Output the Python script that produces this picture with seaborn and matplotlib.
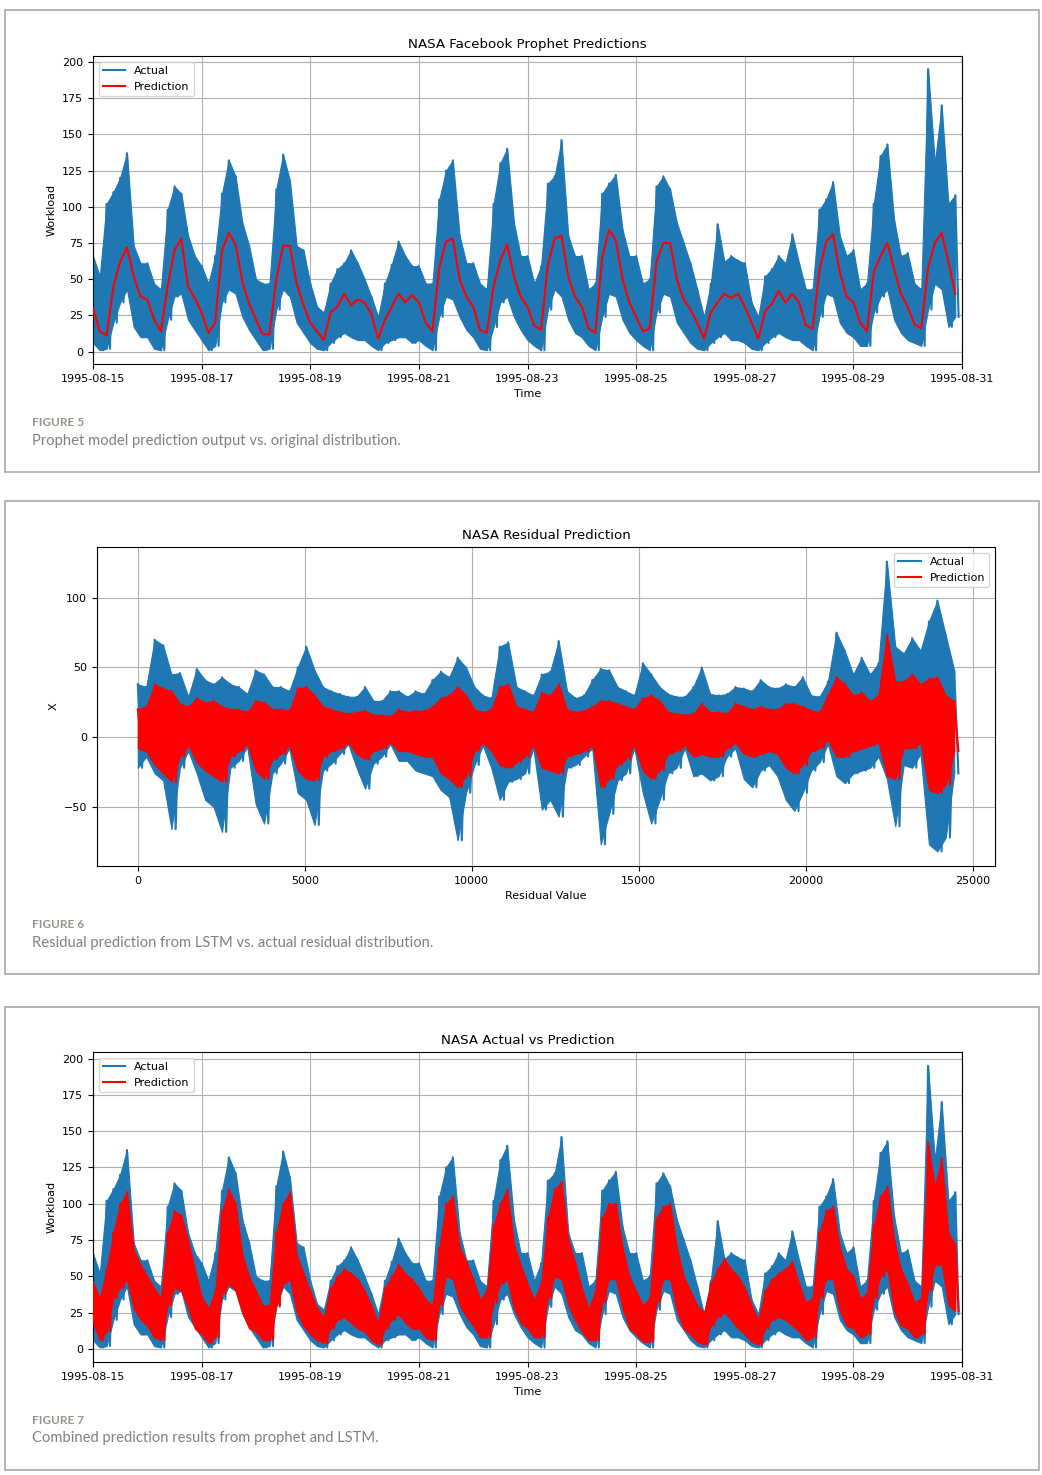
import numpy as np
import pandas as pd
import seaborn as sns
import matplotlib.pyplot as plt
import matplotlib.dates as mdates
from matplotlib.patches import Rectangle

W, H = 1042, 1475

# ---------------- data ----------------
# workload panels: one value per 3 h bin, 16 days starting 1995-08-15 (8 bins per row = 1 day)
actual_hi = [
    66, 52, 102, 110, 120, 137, 73, 61,
    61, 47, 43, 98, 114, 109, 80, 66,
    59, 47, 66, 109, 132, 121, 89, 73,
    50, 47, 47, 112, 136, 118, 73, 70,
    47, 31, 27, 47, 57, 61, 70, 61,
    50, 38, 24, 47, 60, 76, 66, 59,
    59, 47, 47, 105, 125, 132, 80, 61,
    61, 47, 43, 102, 130, 140, 89, 66,
    66, 47, 59, 116, 121, 146, 80, 66,
    66, 43, 47, 109, 116, 122, 84, 66,
    66, 47, 50, 114, 121, 112, 89, 75,
    61, 43, 24, 47, 88, 62, 66, 63,
    61, 34, 24, 52, 57, 66, 61, 81,
    61, 43, 43, 98, 105, 117, 80, 66,
    70, 43, 47, 102, 135, 143, 91, 66,
    68, 47, 43, 195, 130, 170, 102, 108,
]
actual_lo = [
    6, 1, 2, 20, 34, 43, 17, 10,
    10, 2, 1, 22, 38, 40, 22, 15,
    8, 1, 4, 34, 43, 40, 24, 15,
    8, 1, 2, 29, 43, 38, 20, 13,
    6, 2, 1, 6, 10, 13, 10, 8,
    8, 4, 1, 6, 8, 10, 10, 6,
    8, 4, 1, 24, 38, 36, 24, 15,
    10, 2, 1, 17, 34, 38, 24, 15,
    8, 4, 1, 29, 43, 38, 22, 13,
    10, 4, 1, 24, 40, 38, 22, 13,
    8, 4, 1, 27, 40, 38, 20, 13,
    6, 2, 1, 6, 10, 13, 8, 8,
    6, 2, 1, 6, 10, 13, 10, 8,
    8, 4, 1, 24, 40, 38, 20, 13,
    10, 4, 4, 27, 38, 43, 22, 13,
    8, 6, 4, 29, 47, 43, 17, 24,
]
prophet_pred = [
    30, 14, 11, 45, 62, 72, 52, 38,
    36, 22, 14, 45, 70, 78, 45, 37,
    27, 13, 20, 70, 82, 74, 48, 33,
    22, 12, 12, 50, 73, 73, 47, 32,
    20, 14, 8, 27, 31, 40, 32, 36,
    34, 26, 9, 22, 31, 40, 34, 39,
    34, 20, 14, 58, 76, 78, 50, 38,
    31, 15, 13, 45, 63, 74, 52, 38,
    31, 18, 15, 60, 78, 80, 52, 38,
    31, 16, 13, 65, 84, 77, 50, 34,
    24, 14, 16, 62, 75, 75, 50, 36,
    29, 20, 9, 27, 34, 40, 37, 40,
    31, 20, 9, 28, 33, 42, 34, 40,
    34, 18, 16, 56, 76, 81, 55, 38,
    34, 20, 14, 55, 66, 75, 57, 40,
    31, 19, 16, 58, 75, 82, 62, 40,
]
combined_hi = [
    46, 35, 55, 80, 100, 108, 68, 58,
    50, 42, 35, 80, 95, 92, 75, 55,
    36, 28, 40, 95, 110, 100, 65, 50,
    40, 30, 30, 80, 100, 108, 65, 52,
    40, 28, 22, 42, 50, 55, 52, 48,
    40, 30, 18, 42, 50, 58, 52, 48,
    42, 34, 30, 70, 100, 105, 70, 60,
    48, 34, 40, 85, 100, 110, 72, 58,
    45, 34, 45, 90, 110, 115, 75, 60,
    42, 28, 40, 90, 100, 100, 70, 50,
    40, 30, 35, 90, 98, 100, 70, 50,
    40, 30, 25, 45, 55, 62, 55, 50,
    42, 30, 20, 40, 48, 52, 55, 60,
    45, 32, 35, 80, 95, 98, 70, 55,
    50, 35, 38, 85, 105, 112, 75, 55,
    45, 32, 35, 142, 112, 131, 80, 72,
]
combined_lo = [
    18, 6, 12, 35, 42, 48, 28, 20,
    16, 8, 6, 30, 42, 40, 28, 14,
    10, 4, 8, 38, 45, 40, 25, 14,
    12, 6, 6, 30, 45, 48, 25, 16,
    10, 6, 4, 14, 20, 22, 18, 14,
    12, 6, 3, 14, 20, 24, 18, 14,
    14, 8, 6, 30, 50, 48, 30, 22,
    16, 8, 8, 32, 45, 48, 28, 18,
    14, 8, 8, 35, 50, 48, 30, 20,
    12, 6, 6, 32, 48, 48, 28, 14,
    10, 5, 5, 32, 48, 48, 26, 14,
    10, 5, 3, 16, 22, 25, 20, 14,
    10, 5, 3, 14, 20, 22, 20, 16,
    12, 6, 8, 35, 48, 48, 26, 16,
    14, 8, 10, 35, 50, 55, 26, 16,
    14, 8, 10, 40, 58, 58, 30, 26,
]

# residual panel: one value per 252-sample bin (index 0 .. ~24440)
resid_actual_hi = [
    38, 36, 70, 66, 45, 46, 29, 49, 41, 38, 43, 38, 36, 31, 48, 45,
    36, 36, 33, 50, 65, 48, 36, 33, 31, 29, 29, 36, 26, 26, 33, 33,
    29, 33, 31, 41, 47, 43, 57, 50, 36, 30, 28, 65, 68, 36, 33, 30,
    45, 47, 69, 33, 28, 30, 41, 49, 48, 36, 33, 30, 53, 45, 36, 31,
    29, 29, 36, 50, 31, 30, 31, 36, 35, 33, 41, 36, 35, 38, 36, 43,
    30, 29, 40, 75, 62, 45, 57, 45, 53, 126, 65, 60, 71, 62, 83, 98,
    73, 48,
]
resid_actual_lo = [
    -22, -14, -26, -31, -66, -22, -10, -26, -45, -50, -68, -22, -17, -7, -48, -62,
    -26, -19, -8, -40, -45, -63, -24, -19, -12, -5, -22, -37, -19, -14, -5, -17,
    -17, -24, -26, -28, -38, -43, -74, -40, -20, -6, -22, -45, -32, -30, -26, -8,
    -52, -45, -57, -22, -20, -14, -8, -77, -55, -31, -26, -8, -40, -62, -45, -26,
    -22, -8, -28, -26, -31, -28, -14, -8, -30, -36, -24, -20, -28, -45, -53, -40,
    -24, -18, -5, -28, -33, -26, -24, -22, -14, -30, -64, -20, -22, -12, -77, -82,
    -72, -26,
]
resid_pred_hi = [
    20, 22, 38, 35, 33, 24, 22, 28, 25, 26, 22, 20, 20, 18, 26, 25,
    20, 20, 19, 35, 36, 30, 22, 20, 18, 17, 18, 19, 16, 16, 15, 20,
    18, 19, 19, 22, 28, 30, 36, 30, 20, 18, 20, 36, 38, 22, 20, 18,
    32, 30, 38, 20, 18, 19, 22, 26, 26, 24, 22, 20, 28, 30, 26, 18,
    17, 16, 17, 24, 18, 18, 17, 24, 22, 20, 22, 20, 20, 24, 24, 22,
    19, 18, 30, 43, 38, 30, 32, 26, 30, 73, 40, 40, 45, 38, 42, 43,
    30, 26,
]
resid_pred_lo = [
    -8, -10, -20, -26, -32, -14, -6, -18, -24, -28, -32, -14, -10, -5, -24, -30,
    -16, -12, -6, -24, -30, -31, -14, -10, -8, -4, -12, -16, -10, -8, -4, -10,
    -10, -12, -14, -14, -26, -30, -36, -28, -10, -4, -10, -20, -22, -18, -14, -6,
    -22, -24, -26, -14, -12, -10, -6, -36, -30, -20, -16, -6, -24, -30, -24, -12,
    -10, -6, -14, -12, -14, -14, -8, -4, -12, -14, -12, -10, -12, -22, -26, -20,
    -10, -8, -2, -14, -14, -10, -8, -6, -4, -28, -30, -8, -8, -4, -38, -40,
    -34, -10,
]

BLUE = '#1f77b4'
RED = '#ff0000'

plt.rcParams['font.family'] = 'DejaVu Sans'
plt.rcParams['font.size'] = 8
plt.rcParams['axes.titlesize'] = 9.6
plt.rcParams['legend.fontsize'] = 8
plt.rcParams['axes.axisbelow'] = True


def fx(px):
    return px / W


def fy(py):
    return 1 - py / H


def zigzag(x_hi, x_lo, hi, lo):
    xs = np.column_stack([np.asarray(x_hi), np.asarray(x_lo)]).ravel()
    ys = np.column_stack([np.asarray(hi), np.asarray(lo)]).ravel()
    return xs, ys


def band(ax, x, x_mid, hi, lo, color, label, z):
    # dense signal: envelope filled, jagged zigzag on top
    ax.fill_between(x, lo, hi, color=color, linewidth=0.8, edgecolor=color, zorder=z)
    xs, ys = zigzag(x, x_mid, hi, lo)
    sns.lineplot(x=xs, y=ys, ax=ax, color=color, linewidth=1.5,
                 estimator=None, sort=False, label=label, zorder=z + 0.1)


def style_time_axis(ax):
    ax.set_xlim(pd.Timestamp('1995-08-15'), pd.Timestamp('1995-08-31'))
    ax.xaxis.set_major_locator(mdates.DayLocator(interval=2))
    ax.xaxis.set_major_formatter(mdates.DateFormatter('%Y-%m-%d'))
    ax.set_yticks(range(0, 201, 25))
    ax.set_xlabel('Time')
    ax.set_ylabel('Workload')
    ax.grid(True, color='#b0b0b0', linewidth=0.8)
    ax.legend(loc='upper left')


fig = plt.figure(figsize=(W / 100, H / 100), dpi=100)

bins = pd.date_range('1995-08-15', periods=len(actual_hi), freq='3h')
bins_mid = bins + pd.Timedelta(minutes=90)

# ---- figure 5: prophet ----
ax1 = fig.add_axes([fx(93), fy(364), fx(962) - fx(93), fy(56) - fy(364)])
band(ax1, bins, bins_mid, actual_hi, actual_lo, BLUE, 'Actual', 2)
sns.lineplot(x=bins, y=prophet_pred, ax=ax1, color=RED, linewidth=1.5,
             estimator=None, sort=False, label='Prediction', zorder=3)
ax1.set_ylim(-8.5, 204)
ax1.set_title('NASA Facebook Prophet Predictions')
style_time_axis(ax1)

# ---- figure 6: residual ----
ridx = np.arange(len(resid_actual_hi)) * 252
ridx_mid = ridx + 126
ax2 = fig.add_axes([fx(97), fy(866), fx(995) - fx(97), fy(547) - fy(866)])
band(ax2, ridx, ridx_mid, resid_actual_hi, resid_actual_lo, BLUE, 'Actual', 2)
band(ax2, ridx, ridx_mid, resid_pred_hi, resid_pred_lo, RED, 'Prediction', 3)
ax2.set_xlim(-1222, 25666)
ax2.set_ylim(-92.5, 136.5)
ax2.set_title('NASA Residual Prediction')
ax2.set_xlabel('Residual Value')
ax2.set_ylabel('X')
ax2.grid(True, color='#b0b0b0', linewidth=0.8)
ax2.legend(loc='upper right')

# ---- figure 7: combined ----
ax3 = fig.add_axes([fx(93), fy(1362), fx(962) - fx(93), fy(1052) - fy(1362)])
band(ax3, bins, bins_mid, actual_hi, actual_lo, BLUE, 'Actual', 2)
band(ax3, bins, bins_mid, combined_hi, combined_lo, RED, 'Prediction', 3)
ax3.set_ylim(-9, 204.5)
ax3.set_title('NASA Actual vs Prediction')
style_time_axis(ax3)

for ax in (ax1, ax2, ax3):
    ax.get_legend().set_zorder(10)

# ---- page frames and captions ----
boxes = [(10, 472), (501, 974), (1007, 1470)]
captions = [
    ('FIGURE 5', 423, 'Prophet model prediction output vs. original distribution.', 441),
    ('FIGURE 6', 925, 'Residual prediction from LSTM vs. actual residual distribution.', 943),
    ('FIGURE 7', 1420, 'Combined prediction results from prophet and LSTM.', 1438),
]
for top, bottom in boxes:
    fig.add_artist(Rectangle((fx(5), fy(bottom)), fx(1039) - fx(5), fy(top) - fy(bottom),
                             transform=fig.transFigure, fill=False,
                             edgecolor='#a8a8a8', linewidth=1.2))
for tag, ty, text, cy in captions:
    fig.text(fx(32), fy(ty), tag, family='Lato', weight='bold', fontsize=8.5,
             color='#9c9088', va='center', ha='left')
    fig.text(fx(32), fy(cy), text, family='Lato', fontsize=10.6,
             color='#808080', va='center', ha='left')

fig.savefig('out.png', dpi=100)
